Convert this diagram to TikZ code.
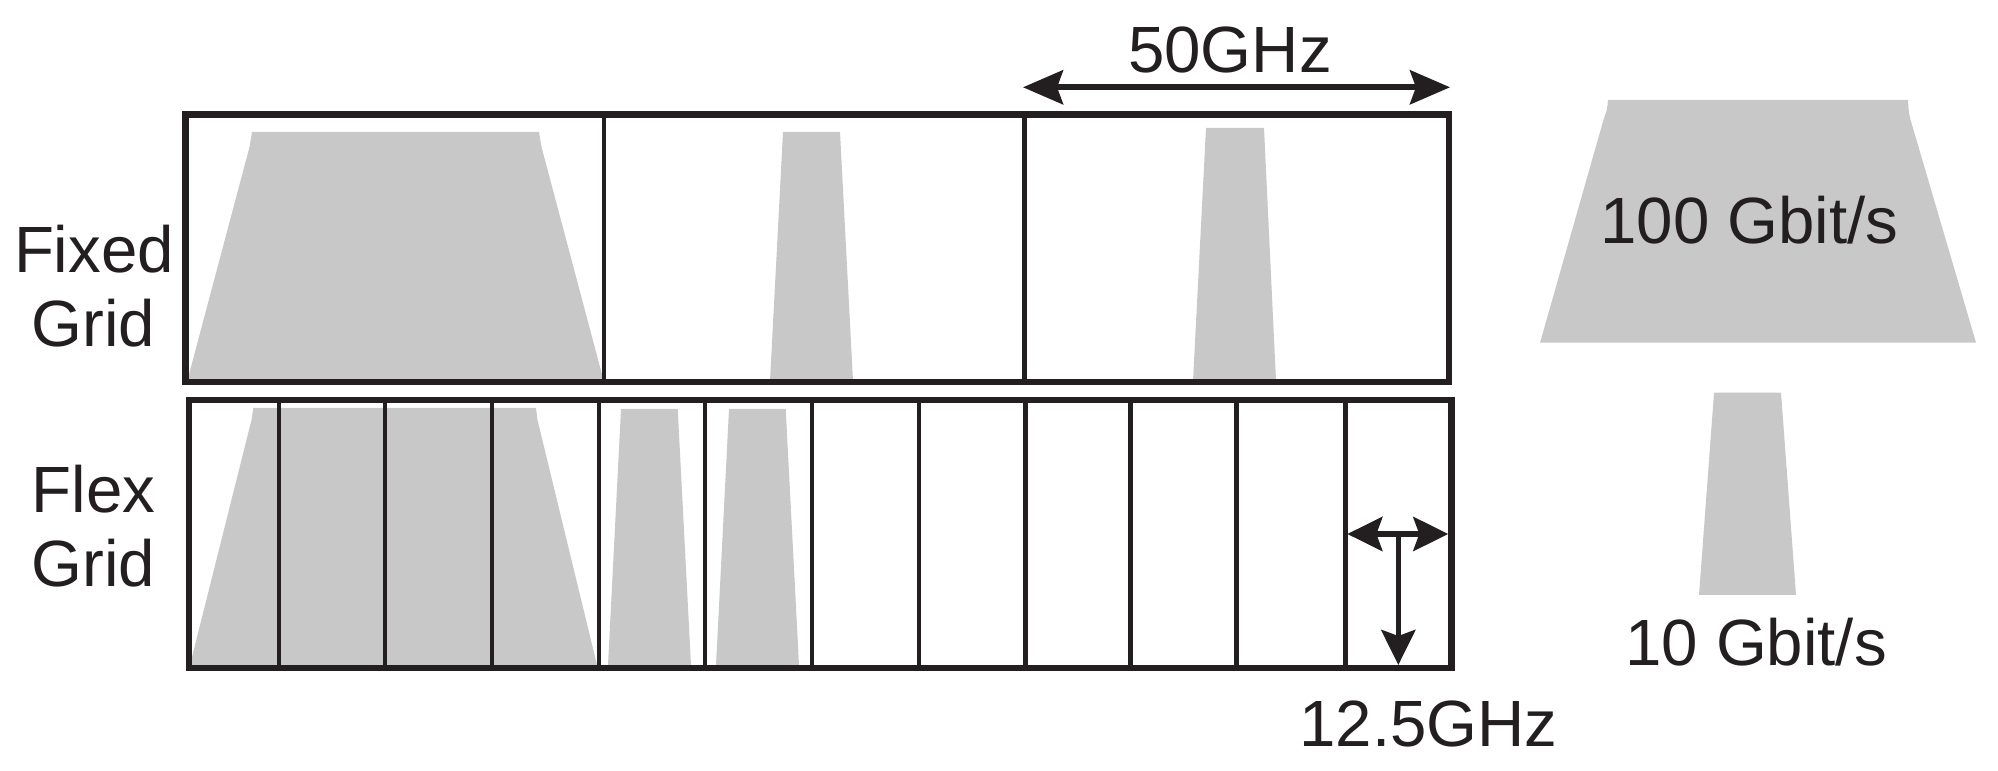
\documentclass[tikz,border=0pt]{standalone}
\usepackage{fontspec}
\setmainfont{Liberation Sans}
\usetikzlibrary{arrows.meta}
\definecolor{ink}{RGB}{35,31,32}
\definecolor{band}{RGB}{200,200,200}
\begin{document}
\begin{tikzpicture}[x=0.01cm,y=-0.01cm,
  frame/.style={draw=ink,line width=1.85pt},
  divider/.style={draw=ink,line width=1.4pt},
  bandfill/.style={fill=band,draw=none},
  txt/.style={inner sep=0pt,anchor=base,text=ink,font=\fontsize{18.6pt}{22pt}\selectfont},
  bigtip/.style={arrows={Stealth[length=4.0mm,width=3.4mm,inset=0.6mm]-Stealth[length=4.0mm,width=3.4mm,inset=0.6mm]}},
  smalltip/.style={arrows={Stealth[length=3.5mm,width=3.4mm,inset=0.6mm]-Stealth[length=3.5mm,width=3.4mm,inset=0.6mm]}},
  downtip/.style={arrows={-Stealth[length=3.5mm,width=3.4mm,inset=0.6mm]}},
  dimline/.style={draw=ink,line width=1.6pt},
]
\useasboundingbox (0,0) rectangle (1998,771);

% ---- spectral bands (fixed grid)
\path[bandfill] (252,132) -- (539,132) .. controls (540,140) .. (541.5,147) -- (604,382) -- (187,382) -- (249.5,147) .. controls (251,140) .. (252,132) -- cycle;
\path[bandfill] (783,132) -- (840,132) -- (853,381) -- (770,381) -- cycle;
\path[bandfill] (1206,128) -- (1264,128) -- (1276,381) -- (1193,381) -- cycle;

% ---- spectral bands (flex grid)
\path[bandfill] (253.3,408) -- (536,408) .. controls (536.5,414) .. (537.5,420) -- (597,665) -- (190,665) -- (251.5,420) .. controls (252.8,414) .. (253.3,408) -- cycle;
\path[bandfill] (621,409) -- (677.7,409) -- (691,665) -- (608,665) -- cycle;
\path[bandfill] (729,409) -- (785.7,409) -- (799,665) -- (716,665) -- cycle;

% ---- legend bands
\path[bandfill] (1608,100) -- (1908,100) .. controls (1908.5,110) .. (1910,118) -- (1976,342.7) -- (1540,342.7) -- (1604,118) .. controls (1607,110) .. (1608,100) -- cycle;
\path[bandfill] (1714,392.7) -- (1781,392.7) -- (1796,595) -- (1699,595) -- cycle;

% ---- fixed grid frame
\foreach \x in {604,1024.7}
  \draw[divider] (\x,114.5) -- (\x,382);
\draw[frame] (185.5,114.5) rectangle (1449,382);

% ---- flex grid frame
\foreach \x in {279,385,492,599,705,812,919,1025.5,1130.7,1236.7,1345.5}
  \draw[divider] (\x,400) -- (\x,668);
\draw[frame] (189,400) rectangle (1451.7,668);

% ---- dimension arrows
\coordinate (g50L) at (1023,87.3);
\coordinate (g50R) at (1450,87.3);
\draw[dimline,bigtip] (g50L) -- (g50R);

\coordinate (g125L) at (1347.3,534);
\coordinate (g125R) at (1448.3,534);
\coordinate (g125M) at (1398.3,534);
\coordinate (g125B) at (1398.3,665);
\draw[dimline,smalltip] (g125L) -- (g125R);
\draw[dimline,downtip] (g125M) -- (g125B);

% ---- labels
\node[txt] (fixedA) at (94,272.7) {Fixed};
\node[txt] (fixedB) at (93.5,346.5) {Grid};
\node[txt] (flexA) at (93.5,512.7) {Flex};
\node[txt] (flexB) at (93.5,587) {Grid};
\node[txt] (t50) at (1230,72.7) {50GHz};
\node[txt] (t125) at (1428.5,746.7) {12.5GHz};
\node[txt] (t100) at (1749.5,243.3) {100 Gbit/s};
\node[txt] (t10) at (1756,666) {10 Gbit/s};
\end{tikzpicture}
\end{document}
